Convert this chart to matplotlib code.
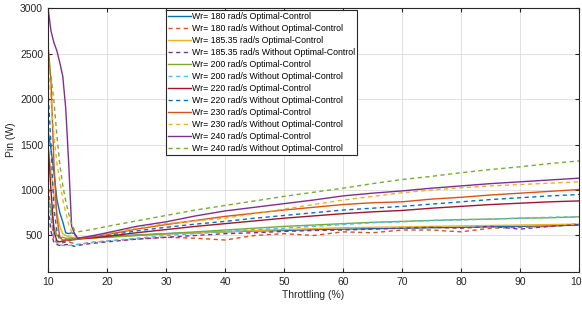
import matplotlib
matplotlib.use('Agg')
import matplotlib.pyplot as plt

plt.rcParams.update({
    'font.family': ['Liberation Sans', 'DejaVu Sans'],
    'font.size': 7.5,
})

# throttling (%) sample points
X = [10, 10.5, 11, 11.5, 12, 12.5, 13, 13.5, 14, 14.5, 15, 17, 20, 25, 30, 35,
     40, 45, 50, 55, 60, 65, 70, 75, 80, 85, 90, 95, 100]

# input power (W)
P180_OPT = [1650, 1450, 1200, 900, 750, 650, 530, 520, 530, 520, 470, 480, 490, 505, 520, 530,
            540, 550, 555, 565, 570, 575, 580, 585, 590, 595, 600, 605, 615]
P180_WO = [1100, 700, 450, 420, 410, 420, 430, 430, 420, 410, 400, 420, 440, 460, 480, 470,
           450, 500, 520, 500, 540, 530, 560, 560, 540, 580, 590, 600, 630]
P185_OPT = [1500, 1200, 950, 750, 600, 520, 500, 490, 480, 470, 465, 470, 480, 500, 515, 530,
            540, 555, 565, 575, 585, 590, 595, 600, 605, 610, 615, 620, 625]
P185_WO = [800, 550, 420, 400, 390, 390, 400, 400, 390, 380, 390, 410, 430, 460, 480, 500,
           520, 530, 545, 555, 560, 570, 580, 590, 580, 600, 570, 600, 620]
P200_OPT = [900, 800, 600, 500, 480, 480, 470, 470, 470, 470, 470, 475, 480, 500, 520, 540,
            560, 580, 600, 615, 630, 645, 655, 665, 675, 680, 690, 695, 705]
P200_WO = [950, 700, 500, 420, 400, 390, 390, 390, 395, 400, 400, 420, 440, 470, 500, 520,
           545, 565, 580, 600, 620, 640, 650, 665, 670, 680, 690, 700, 705]
P220_OPT = [1500, 1000, 550, 440, 430, 440, 450, 450, 455, 455, 460, 470, 490, 530, 565, 600,
            630, 660, 690, 715, 740, 760, 775, 800, 820, 840, 855, 870, 880]
P220_WO = [2100, 1500, 800, 550, 450, 430, 430, 440, 450, 460, 470, 480, 500, 550, 590, 625,
           655, 690, 720, 750, 780, 800, 820, 845, 870, 895, 915, 935, 950]
P230_OPT = [2600, 2200, 1300, 700, 480, 450, 450, 450, 455, 455, 460, 480, 510, 570, 620, 665,
            710, 745, 780, 810, 840, 860, 870, 900, 920, 945, 965, 985, 1005]
P230_WO = [2400, 2000, 1600, 1300, 1100, 900, 750, 620, 540, 500, 470, 490, 520, 580, 630, 660,
           690, 740, 790, 840, 890, 930, 970, 1000, 1025, 1045, 1060, 1075, 1090]
P240_OPT = [3000, 2750, 2620, 2530, 2400, 2250, 1900, 1300, 600, 520, 470, 490, 530, 600, 650, 715,
            770, 810, 850, 890, 935, 965, 990, 1020, 1045, 1070, 1090, 1110, 1130]
P240_WO = [2500, 2250, 1980, 1600, 1280, 1050, 880, 740, 620, 560, 540, 560, 600, 660, 720, 780,
           830, 880, 930, 975, 1020, 1070, 1115, 1150, 1190, 1225, 1255, 1290, 1320]

SERIES = [
    (P180_OPT, 'Wr= 180 rad/s Optimal-Control', '#0072BD', '-'),
    (P180_WO, 'Wr= 180 rad/s Without Optimal-Control', '#D95319', '--'),
    (P185_OPT, 'Wr= 185.35 rad/s Optimal-Control', '#EDB120', '-'),
    (P185_WO, 'Wr= 185.35 rad/s Without Optimal-Control', '#7E2F8E', '--'),
    (P200_OPT, 'Wr= 200 rad/s Optimal-Control', '#77AC30', '-'),
    (P200_WO, 'Wr= 200 rad/s Without Optimal-Control', '#4DBEEE', '--'),
    (P220_OPT, 'Wr= 220 rad/s Optimal-Control', '#A2142F', '-'),
    (P220_WO, 'Wr= 220 rad/s Without Optimal-Control', '#0072BD', '--'),
    (P230_OPT, 'Wr= 230 rad/s Optimal-Control', '#D95319', '-'),
    (P230_WO, 'Wr= 230 rad/s Without Optimal-Control', '#EDB120', '--'),
    (P240_OPT, 'Wr= 240 rad/s Optimal-Control', '#7E2F8E', '-'),
    (P240_WO, 'Wr= 240 rad/s Without Optimal-Control', '#77AC30', '--'),
]

fig = plt.figure(figsize=(5.82, 3.10), dpi=100)
ax = fig.add_axes([0.0825, 0.123, 0.9125, 0.851])

for y, lbl, col, ls in SERIES:
    ax.plot(X, y, color=col, ls=ls, lw=1.0, label=lbl,
            dashes=(3, 2.5) if ls == '--' else (None, None))

ax.set_xlim(10, 100)
ax.set_ylim(100, 3000)
ax.set_xticks(range(10, 101, 10))
ax.set_yticks(range(500, 3001, 500))
ax.grid(True, color='#dcdcdc', lw=0.6)
ax.set_axisbelow(True)
ax.tick_params(direction='in', top=True, right=True, length=3, colors='#262626')
for s in ax.spines.values():
    s.set_color('#262626')
    s.set_linewidth(0.8)
ax.set_xlabel('Throttling (%)', color='#262626', labelpad=2)
ax.set_ylabel('Pin (W)', color='#262626', labelpad=3)

leg = ax.legend(loc='upper left', bbox_to_anchor=(0.222, 0.993), fontsize=6.3,
                frameon=True, fancybox=False, framealpha=1, edgecolor='#262626',
                handlelength=2.6, handletextpad=0.1, labelspacing=0.34,
                borderpad=0.25, borderaxespad=0)
leg.get_frame().set_linewidth(0.8)

fig.savefig('out.png', dpi=100)
